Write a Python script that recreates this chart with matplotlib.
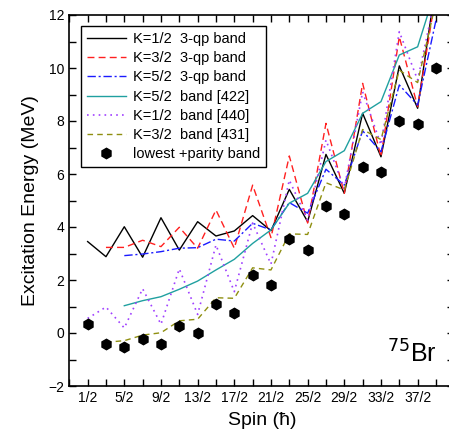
import numpy as np
import matplotlib
matplotlib.use("Agg")
import matplotlib.pyplot as plt
from matplotlib.ticker import MultipleLocator, FixedLocator, FixedFormatter

plt.rcParams['font.family'] = ['Liberation Sans', 'DejaVu Sans']

nan = np.nan
spin = np.arange(20) + 0.5  # 1/2 ... 39/2

k12_3qp = [3.45, 2.88, 4.01, 2.86, 4.35, 3.13, 4.2, 3.66, 3.85, 4.43, 3.86, 5.42, 4.2, 6.74, 5.27, 8.29, 6.65, 10.08, 8.48, 13.2]
k32_3qp = [nan, 3.23, 3.23, 3.5, 3.26, 3.99, 3.2, 4.64, 3.2, 5.58, 3.6, 6.68, 4.15, 7.91, 5.27, 9.42, 6.65, 11.18, 8.54, 12.8]
k52_3qp = [nan, nan, 2.92, 2.98, 3.07, 3.2, 3.22, 3.54, 3.47, 4.14, 3.89, 4.92, 4.52, 6.18, 5.58, 7.63, 6.84, 9.36, 8.6, 11.8]
k52_422 = [nan, nan, 1.03, 1.22, 1.37, 1.65, 1.96, 2.38, 2.78, 3.38, 3.89, 4.9, 5.27, 6.47, 6.88, 8.29, 8.73, 10.49, 10.8, 13.0]
k12_440 = [0.55, 0.98, 0.19, 1.67, 0.33, 2.42, 0.7, 3.32, 1.56, 4.15, 2.6, 5.77, 4.26, 7.28, 5.46, 9.1, 7.1, 11.37, 9.55, 12.8]
k32_431 = [nan, -0.35, -0.29, -0.08, 0.01, 0.46, 0.52, 1.33, 1.31, 2.46, 2.38, 3.74, 3.72, 5.67, 5.4, 7.68, 7.3, 9.92, 9.45, 12.5]
lowest = [0.34, -0.42, -0.52, -0.24, -0.42, 0.26, 0.0, 1.08, 0.77, 2.19, 1.82, 3.54, 3.12, 4.78, 4.49, 6.26, 6.06, 8.0, 7.88, 9.99]

xtick_vals = [0.5, 2.5, 4.5, 6.5, 8.5, 10.5, 12.5, 14.5, 16.5, 18.5]
xtick_labels = ['1/2', '5/2', '9/2', '13/2', '17/2', '21/2', '25/2', '29/2', '33/2', '37/2']

fig = plt.figure(figsize=(4.49, 4.38), dpi=100)
ax = fig.add_axes([69.3/449, 1-386/438, (454.3-69.3)/449, (386-15)/438])

lw = 1.0
ax.plot(spin, k12_3qp, color='black', lw=lw, label='K=1/2  3-qp band')
ax.plot(spin, k32_3qp, color='#ff2020', lw=lw, ls=(0, (5, 3)), label='K=3/2  3-qp band')
ax.plot(spin, k52_3qp, color='#1a1aff', lw=lw, ls=(0, (6, 2, 1.5, 2)), label='K=5/2  3-qp band')
ax.plot(spin, k52_422, color='#20a0a0', lw=lw, label='K=5/2  band [422]')
ax.plot(spin, k12_440, color='#a040ff', lw=1.2, ls=(0, (1, 2.5)), label='K=1/2  band [440]')
ax.plot(spin, k32_431, color='#8f8f10', lw=lw, ls=(0, (4, 3)), label='K=3/2  band [431]')
ax.plot(spin, lowest, ls='none', marker='h', ms=7.5, color='black', label='lowest +parity band')

ax.set_xlim(-0.5, 20.5)
ax.set_ylim(-2, 12)
ax.xaxis.set_major_locator(FixedLocator(xtick_vals))
ax.xaxis.set_major_formatter(FixedFormatter(xtick_labels))
ax.xaxis.set_minor_locator(MultipleLocator(1.0, offset=0.5))
ax.yaxis.set_major_locator(MultipleLocator(2))
ax.yaxis.set_minor_locator(MultipleLocator(1))
ax.tick_params(which='both', direction='in', top=True, right=True, labelsize=10, width=1)
ax.tick_params(which='major', length=5)
ax.tick_params(which='minor', length=5)
for s in ax.spines.values():
    s.set_linewidth(1.2)

ax.set_xlabel('Spin (ħ)', fontsize=14, labelpad=5)
ax.set_ylabel('Excitation Energy (MeV)', fontsize=14, labelpad=7)

ax.text(0.955, 0.05, r'$^{75}$Br', transform=ax.transAxes, fontsize=18, ha='right', va='bottom')

leg = ax.legend(loc='upper left', bbox_to_anchor=(0.03, 0.97), borderaxespad=0, fontsize=10.5,
                fancybox=False, edgecolor='black', framealpha=1, handlelength=2.7,
                labelspacing=0.36, borderpad=0.4, handletextpad=0.45)
leg.get_frame().set_linewidth(1.0)

fig.savefig('out.png', dpi=100)
